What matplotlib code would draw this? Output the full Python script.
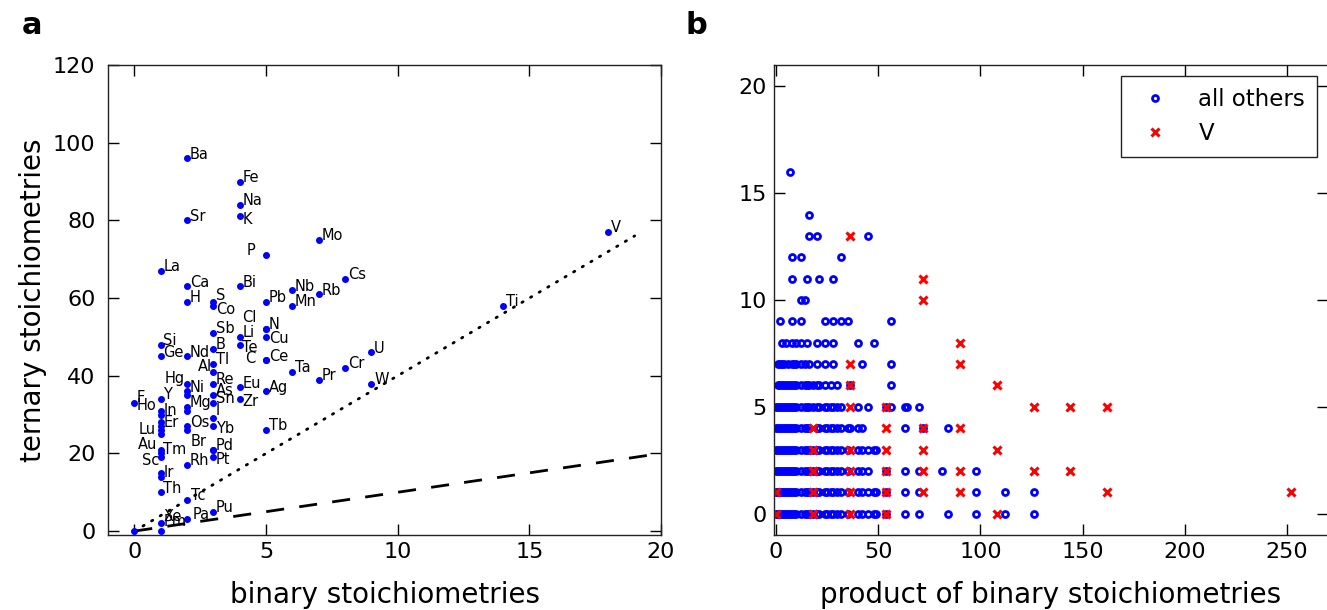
import matplotlib
matplotlib.use("Agg")
import matplotlib.pyplot as plt

# ---------------- panel a data ----------------
names = ['F', '',
         'La', 'Si', 'Ge', 'Y', 'Ho', 'In', '', 'Er', '', 'Lu', 'Au', 'Tm', 'Sc', '', 'Ir', 'Th', 'Xe', 'Pm',
         'Ba', 'Sr', 'Ca', 'H', 'Nd', 'Hg', 'Ni', '', 'Mg', '', 'Os', '', 'Rh', 'Tc', 'Pa',
         'S', 'Co', 'Sb', 'B', 'Tl', 'Al', 'Re', 'As', 'Sn', 'I', 'Yb', 'Pd', 'Br', 'Pt', 'Pu',
         'Fe', 'Na', 'K', 'Bi', 'Li', 'Te', 'Eu', 'Zr',
         'P', 'Pb', 'N', 'Cl', 'Cu', 'Ce', 'C', 'Ag', 'Tb',
         'Nb', 'Mn', 'Ta',
         'Mo', 'Rb', 'Pr',
         'Cs', 'Cr',
         'U', 'W',
         'Ti', 'V']
binary = [0, 0,
          1, 1, 1, 1, 1, 1, 1, 1, 1, 1, 1, 1, 1, 1, 1, 1, 1, 1,
          2, 2, 2, 2, 2, 2, 2, 2, 2, 2, 2, 2, 2, 2, 2,
          3, 3, 3, 3, 3, 3, 3, 3, 3, 3, 3, 3, 3, 3, 3,
          4, 4, 4, 4, 4, 4, 4, 4,
          5, 5, 5, 5, 5, 5, 5, 5, 5,
          6, 6, 6,
          7, 7, 7,
          8, 8,
          9, 9,
          14, 18]
ternary = [33, 0,
           67, 48, 45, 34, 31, 30, 28, 27, 26, 25, 21, 20, 19, 15, 14, 10, 2, 0,
           96, 80, 63, 59, 45, 38, 36, 35, 32, 31, 27, 26, 17, 8, 3,
           59, 58, 51, 47, 43, 41, 38, 35, 33, 29, 27, 21, 21, 19, 5,
           90, 84, 81, 63, 50, 48, 37, 34,
           71, 59, 52, 52, 50, 44, 44, 36, 26,
           62, 58, 41,
           75, 61, 39,
           65, 42,
           46, 38,
           58, 77]
ref_x = [0, 19]
dotted_slope = 4
dashed_x = [0, 20]
dashed_slope = 1

# ---------------- panel b data ----------------
# x positions (product of binary stoichiometries) per ternary count row
others_rows = {
    16: [7],
    14: [16],
    13: [16, 20, 45],
    12: [8, 12, 32],
    11: [8, 15, 21, 28],
    10: [12, 14],
    9: [2, 8, 12, 24, 28, 32, 35, 56],
    8: [3, 5, 8, 10, 12, 15, 20, 24, 28, 40, 48],
    7: [1, 2, 3, 4, 6, 8, 9, 10, 12, 14, 16, 20, 24, 28, 42, 56],
    6: [1, 2, 3, 4, 5, 6, 7, 8, 9, 10, 12, 14, 15, 16, 18, 20, 21, 24, 27, 30, 36, 56],
    5: [0, 1, 2, 3, 4, 5, 6, 7, 8, 9, 10, 12, 14, 15, 16, 18, 20, 21, 24, 25, 27, 28, 30, 32,
        40, 45, 54, 56, 63, 64, 70],
    4: [0, 1, 2, 3, 4, 5, 6, 7, 8, 9, 10, 12, 14, 15, 16, 20, 21, 24, 25, 27, 28, 30, 32, 35,
        36, 40, 42, 63, 72, 84],
    3: [0, 1, 2, 3, 4, 5, 6, 7, 8, 9, 10, 12, 14, 15, 16, 18, 20, 21, 24, 25, 27, 28, 30, 32,
        35, 40, 42, 45, 48, 49],
    2: [0, 1, 2, 3, 4, 5, 6, 7, 8, 9, 10, 12, 14, 15, 16, 18, 20, 21, 24, 25, 27, 28, 30, 32,
        35, 40, 42, 45, 54, 63, 70, 81, 98],
    1: [0, 1, 2, 3, 4, 5, 6, 7, 8, 9, 10, 12, 14, 15, 16, 18, 20, 21, 24, 25, 27, 28, 30, 32,
        35, 40, 42, 45, 48, 49, 54, 63, 70, 98, 112, 126],
    0: [0, 1, 2, 3, 4, 5, 6, 7, 8, 9, 10, 12, 14, 15, 16, 18, 20, 21, 24, 25, 27, 28, 30, 32,
        35, 40, 42, 45, 48, 49, 54, 63, 70, 84, 98, 112, 126],
}
v_rows = {
    13: [36],
    11: [72],
    10: [72],
    8: [90],
    7: [36, 90],
    6: [36, 108],
    5: [36, 54, 126, 144, 162],
    4: [18, 54, 72, 90],
    3: [18, 36, 54, 72, 108],
    2: [18, 36, 54, 72, 90, 126, 144],
    1: [0, 18, 36, 54, 72, 90, 162, 252],
    0: [0, 18, 36, 54, 108],
}

# ---------------- label layout (offsets in points) ----------------
default_off = (2, 3, 'left')
label_off = {
    'P': (-8, 3.5, 'right'), 'Cl': (-7, 8.5, 'right'), 'C': (-8, 1.5, 'right'),
    'Hg': (-1.5, 3.5, 'right'), 'Al': (-1, 3.5, 'right'), 'Ho': (-3.4, 3.5, 'right'),
    'Lu': (-3.4, 3, 'right'), 'Au': (-2.7, 3.5, 'right'), 'Sc': (-1.2, -2, 'right'),
    'Br': (-5, 5.8, 'right'),
    'S': (2, 4.3, 'left'), 'Co': (2, -3, 'left'), 'K': (2, -2, 'left'), 'Te': (2, -2, 'left'),
    'Cu': (2, -1.5, 'left'), 'Zr': (2, -2, 'left'), 'I': (2, 5.5, 'left'),
    'Yb': (2, -1.5, 'left'), 'Pt': (2, -1.5, 'left'), 'Pa': (4, 3.5, 'left'),
    'Xe': (2, 5, 'left'), 'Pm': (2, 7, 'left'), 'F': (2, 4, 'left'), 'Tc': (3, 3, 'left'),
}

plt.rcParams.update({
    'font.family': 'DejaVu Sans',
    'xtick.direction': 'in', 'ytick.direction': 'in',
    'xtick.top': True, 'ytick.right': True,
    'xtick.major.size': 8, 'ytick.major.size': 8,
    'xtick.major.width': 1, 'ytick.major.width': 1,
    'xtick.major.pad': 5, 'ytick.major.pad': 9,
    'xtick.labelsize': 16, 'ytick.labelsize': 16,
    'axes.linewidth': 1.0,
    'axes.edgecolor': '#222222',
})

fig = plt.figure(figsize=(13.27, 6.10), dpi=100)
axa = fig.add_axes([108/1327, 1-535/610, (661-108)/1327, (535-65)/610])
axb = fig.add_axes([774/1327, 1-535/610, (1328-774)/1327, (535-65)/610])

# ---- panel a ----
axa.plot(ref_x, [dotted_slope*v for v in ref_x], ls=(0, (0.5, 3.1)), color='k', lw=2,
         dash_capstyle='round')
axa.plot(dashed_x, [dashed_slope*v for v in dashed_x], ls=(0, (6.5, 5.5)), color='k', lw=2)
axa.plot(binary, ternary, 'o', color='#0000ff', ms=4, mec='#0000ff', zorder=3)
for n, xv, yv in zip(names, binary, ternary):
    if not n:
        continue
    dx, dy, ha = label_off.get(n, default_off)
    axa.annotate(n, (xv, yv), xytext=(dx, dy), textcoords='offset points',
                 ha=ha, va='center', fontsize=10.5, zorder=4)
axa.set_xlim(-1, 20)
axa.set_ylim(-1, 120)
axa.set_xticks([0, 5, 10, 15, 20])
axa.set_yticks([0, 20, 40, 60, 80, 100, 120])
axa.set_xlabel('binary stoichiometries', fontsize=20, labelpad=14)
axa.set_ylabel('ternary stoichiometries', fontsize=20, labelpad=4)

# ---- panel b ----
ox, oy = [], []
for yv, xs in others_rows.items():
    ox += xs
    oy += [yv]*len(xs)
vx, vy = [], []
for yv, xs in v_rows.items():
    vx += xs
    vy += [yv]*len(xs)
axb.plot(ox, oy, 'o', ls='none', mfc='none', mec='#0000ff', mew=2, ms=4.3, label='all others')
axb.plot(vx, vy, 'x', ls='none', color='#ff0000', mew=2.2, ms=6, label='V')
axb.set_xlim(-1, 270)
axb.set_ylim(-1, 21)
axb.set_xticks([0, 50, 100, 150, 200, 250])
axb.set_yticks([0, 5, 10, 15, 20])
axb.tick_params(axis='y', pad=5)
axb.set_xlabel('product of binary stoichiometries', fontsize=20, labelpad=14)
leg = axb.legend(loc='upper right', fontsize=16.5, numpoints=1, fancybox=False,
                 edgecolor='#222222', framealpha=1, borderaxespad=0.5,
                 handletextpad=0.87, borderpad=0.5, labelspacing=0.5)
leg.get_frame().set_linewidth(1)

fig.text(22/1327, 1-25/610, 'a', fontsize=22, fontweight='bold', va='center', ha='left')
fig.text(686/1327, 1-25/610, 'b', fontsize=22, fontweight='bold', va='center', ha='left')

fig.savefig('out.png', dpi=100)
